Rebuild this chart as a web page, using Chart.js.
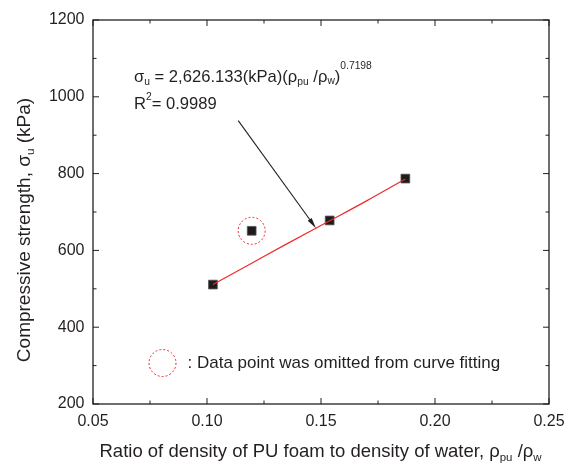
<!DOCTYPE html>
<html>
<head>
<meta charset="utf-8">
<script src="https://cdn.jsdelivr.net/npm/chart.js@4.4.1/dist/chart.umd.min.js"></script>
<style>
  html, body { margin: 0; padding: 0; background: #fff; }
  #wrap { width: 572px; height: 466px; }
</style>
</head>
<body>
<div id="wrap"><canvas id="chart" width="572" height="466"></canvas></div>
<script>
// measured specimens: density ratio vs compressive strength (kPa)
const densityRatio = [0.1026, 0.1196, 0.1538, 0.187];
const strength = [511, 651, 678, 787];
// power-law fit curve
const fitRatio = [0.1026, 0.12, 0.135, 0.1538, 0.17, 0.187];
const fitStrength = [511, 568, 617, 677, 729, 786];
// point left out of the fit (circled)
const omittedRatio = [0.1196];
const omittedStrength = [651];
// arrow from the equation down to the fit line
const arrowFrom = [0.1137, 938];
const arrowTo = [0.1478, 658];
// axis ticks
const xTicks = [0.05, 0.10, 0.15, 0.20, 0.25];
const yTicks = [200, 400, 600, 800, 1000, 1200];

const FONT = '"Liberation Sans", Arial, sans-serif';
const INK = '#231f20';

// draws text runs with sub/superscripts starting at x; returns width
function richText(ctx, runs, x, y, size, measureOnly) {
  let cx = x;
  for (const r of runs) {
    const s = r.sub || r.sup ? size * 0.62 : size;
    ctx.font = s + 'px ' + FONT;
    let dy = r.sub ? size * 0.32 : r.sup ? -size * 0.44 : 0;
    if (r.dy !== undefined) dy = r.dy;
    if (!measureOnly) ctx.fillText(r.t, cx, y + dy);
    cx += ctx.measureText(r.t).width;
  }
  return cx - x;
}

const framePlugin = {
  id: 'frame',
  afterDatasetsDraw(chart) {
    const { ctx, chartArea: a, scales: { x, y } } = chart;
    ctx.save();
    ctx.strokeStyle = INK;
    ctx.lineWidth = 1.3;
    ctx.strokeRect(a.left, a.top, a.right - a.left, a.bottom - a.top);

    // inward ticks on all four sides, minor ticks halfway
    ctx.lineWidth = 1;
    ctx.beginPath();
    for (let i = 0; i < xTicks.length; i++) {
      const px = x.getPixelForValue(xTicks[i]);
      ctx.moveTo(px, a.bottom); ctx.lineTo(px, a.bottom - 6);
      ctx.moveTo(px, a.top); ctx.lineTo(px, a.top + 6);
      if (i < xTicks.length - 1) {
        const mx = x.getPixelForValue((xTicks[i] + xTicks[i + 1]) / 2);
        ctx.moveTo(mx, a.bottom); ctx.lineTo(mx, a.bottom - 3.5);
        ctx.moveTo(mx, a.top); ctx.lineTo(mx, a.top + 3.5);
      }
    }
    for (let i = 0; i < yTicks.length; i++) {
      const py = y.getPixelForValue(yTicks[i]);
      ctx.moveTo(a.left, py); ctx.lineTo(a.left + 6, py);
      ctx.moveTo(a.right, py); ctx.lineTo(a.right - 6, py);
      if (i < yTicks.length - 1) {
        const my = y.getPixelForValue((yTicks[i] + yTicks[i + 1]) / 2);
        ctx.moveTo(a.left, my); ctx.lineTo(a.left + 3.5, my);
        ctx.moveTo(a.right, my); ctx.lineTo(a.right - 3.5, my);
      }
    }
    ctx.stroke();

    // tick labels
    ctx.fillStyle = INK;
    ctx.font = '16px ' + FONT;
    ctx.textBaseline = 'middle';
    ctx.textAlign = 'center';
    xTicks.forEach(v => ctx.fillText(v.toFixed(2), x.getPixelForValue(v), a.bottom + 17.5));
    ctx.textAlign = 'right';
    yTicks.forEach(v => ctx.fillText(String(v), a.left - 8.5, y.getPixelForValue(v)));

    // dashed circle around the omitted point
    ctx.strokeStyle = '#e8262d';
    ctx.lineWidth = 1;
    ctx.setLineDash([2, 2]);
    for (let i = 0; i < omittedRatio.length; i++) {
      ctx.beginPath();
      ctx.arc(x.getPixelForValue(omittedRatio[i]), y.getPixelForValue(omittedStrength[i]), 13.5, 0, Math.PI * 2);
      ctx.stroke();
    }
    // legend circle
    ctx.beginPath();
    ctx.arc(162.5, 363, 13.5, 0, Math.PI * 2);
    ctx.stroke();
    ctx.setLineDash([]);

    // arrow
    const x0 = x.getPixelForValue(arrowFrom[0]), y0 = y.getPixelForValue(arrowFrom[1]);
    const x1 = x.getPixelForValue(arrowTo[0]), y1 = y.getPixelForValue(arrowTo[1]);
    const ang = Math.atan2(y1 - y0, x1 - x0);
    ctx.strokeStyle = INK;
    ctx.lineWidth = 1.1;
    ctx.beginPath();
    ctx.moveTo(x0, y0);
    ctx.lineTo(x1 - 6 * Math.cos(ang), y1 - 6 * Math.sin(ang));
    ctx.stroke();
    ctx.beginPath();
    ctx.moveTo(x1, y1);
    ctx.lineTo(x1 - 11 * Math.cos(ang - 0.22), y1 - 11 * Math.sin(ang - 0.22));
    ctx.lineTo(x1 - 11 * Math.cos(ang + 0.22), y1 - 11 * Math.sin(ang + 0.22));
    ctx.closePath();
    ctx.fill();

    // equation and legend text
    ctx.textAlign = 'left';
    richText(ctx, [{ t: 'σ' }, { t: 'u', sub: 1, dy: 5.5 }, { t: ' = 2,626.133(kPa)(ρ' }, { t: 'pu', sub: 1, dy: 5 },
      { t: ' /ρ' }, { t: 'w', sub: 1, dy: 4 }, { t: ')' }, { t: '0.7198', sup: 1, dy: -11 }], 134, 77, 16.6);
    richText(ctx, [{ t: 'R' }, { t: '2', sup: 1, dy: -7 }, { t: '= 0.9989' }], 134, 104, 16.6);
    richText(ctx, [{ t: ': Data point was omitted from curve fitting' }], 187.5, 363, 17);

    // x axis title
    const xRuns = [{ t: 'Ratio of density of PU foam to density of water, ρ' }, { t: 'pu', sub: 1, dy: 6 },
      { t: ' /ρ' }, { t: 'w', sub: 1, dy: 6 }];
    richText(ctx, xRuns, 99.5, 452, 18.5);

    // y axis title
    const yRuns = [{ t: 'Compressive strength, σ' }, { t: 'u', sub: 1, dy: 6 }, { t: ' (kPa)' }];
    const yw = richText(ctx, yRuns, 0, 0, 19, true);
    ctx.translate(25, 230);
    ctx.rotate(-Math.PI / 2);
    richText(ctx, yRuns, -yw / 2, 0, 19);
    ctx.restore();
  }
};

new Chart(document.getElementById('chart'), {
  type: 'scatter',
  data: {
    datasets: [
      {
        type: 'line',
        data: fitRatio.map((v, i) => ({ x: v, y: fitStrength[i] })),
        borderColor: '#ee2a2a',
        borderWidth: 1.2,
        pointRadius: 0,
        cubicInterpolationMode: 'monotone',
        fill: false
      },
      {
        data: densityRatio.map((v, i) => ({ x: v, y: strength[i] })),
        pointStyle: 'rect',
        pointRadius: 6.2,
        backgroundColor: '#1e1b1c',
        borderColor: '#555',
        borderWidth: 0.8
      }
    ]
  },
  options: {
    responsive: false,
    animation: false,
    layout: { padding: { top: 20, right: 23, left: 0, bottom: 0 } },
    plugins: { legend: { display: false }, tooltip: { enabled: false } },
    scales: {
      x: {
        type: 'linear',
        min: 0.05, max: 0.25,
        afterBuildTicks: s => { s.ticks = xTicks.map(v => ({ value: v })); },
        afterFit: s => { s.height = 62; },
        grid: { display: false },
        border: { display: false },
        ticks: { display: false }
      },
      y: {
        min: 200, max: 1200,
        afterBuildTicks: s => { s.ticks = yTicks.map(v => ({ value: v })); },
        afterFit: s => { s.width = 93; },
        grid: { display: false },
        border: { display: false },
        ticks: { display: false }
      }
    }
  },
  plugins: [framePlugin]
});
</script>
</body>
</html>
